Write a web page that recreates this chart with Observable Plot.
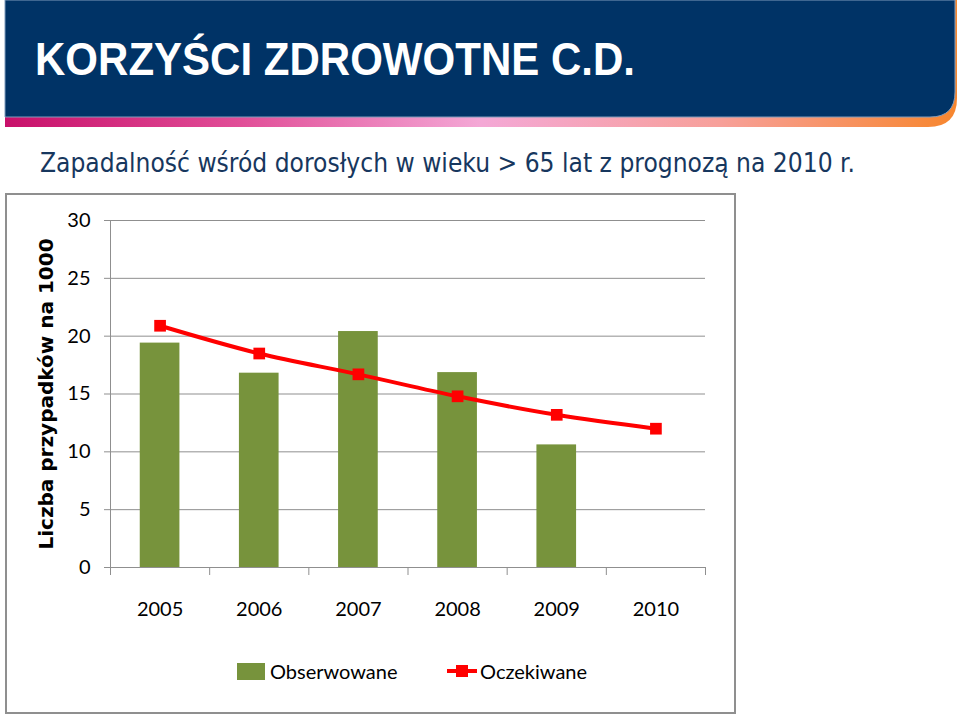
<!DOCTYPE html>
<html>
<head>
<meta charset="utf-8">
<script src="https://cdn.jsdelivr.net/npm/d3@7"></script>
<script src="https://cdn.jsdelivr.net/npm/@observablehq/plot@0.6"></script>
<style>
  body { margin: 0; background: #fff; }
  #page { position: relative; width: 960px; height: 716px; overflow: hidden; background: #fff; }
  #header { position: absolute; left: 0; top: 0; }
  #frame { position: absolute; left: 5px; top: 193px; width: 731px; height: 521px; box-sizing: border-box; border: 2px solid #8f8f8f; }
  #chart { position: absolute; left: 5px; top: 193px; }
  .leg { position: absolute; font-family: Lato, "Open Sans", sans-serif; font-size: 20px; line-height: 20px; color: #000; white-space: nowrap; }
</style>
</head>
<body>
<div id="page">
  <svg id="header" width="960" height="190" xmlns="http://www.w3.org/2000/svg">
    <defs>
      <linearGradient id="stripe" x1="0" x2="1" y1="0" y2="0">
        <stop offset="0" stop-color="#c8106a"/>
        <stop offset="0.25" stop-color="#e14f98"/>
        <stop offset="0.5" stop-color="#f4a8d6"/>
        <stop offset="0.75" stop-color="#f7a09a"/>
        <stop offset="1" stop-color="#f7862e"/>
      </linearGradient>
    </defs>
    <path d="M5,0 H957 V98 Q957,127 928,127 H5 Z" fill="url(#stripe)"/>
    <path d="M5,0 H955 V92 Q955,117 930,117 H5 Z" fill="#003366" stroke="#7f9cbc" stroke-width="1"/>
    <text id="title" x="35" y="75" fill="#ffffff" font-family="'Liberation Sans', Arial, sans-serif" font-weight="bold" font-size="46" textLength="600" lengthAdjust="spacingAndGlyphs"></text>
    <text id="subtitle" transform="translate(40,172) scale(1,1.27)" x="0" y="0" fill="#17375e" font-family="'DejaVu Sans', Verdana, sans-serif" font-size="21" textLength="815" lengthAdjust="spacingAndGlyphs"></text>
  </svg>
  <div id="frame"></div>
  <div id="chart"></div>
  <div id="legend"></div>
</div>
<script>
// ---- data ----
const titleText = "KORZYŚCI ZDROWOTNE C.D.";
const subtitleText = "Zapadalność wśród dorosłych w wieku > 65 lat z prognozą na 2010 r.";
const yLabel = "Liczba przypadków na 1000";
const years = [2005, 2006, 2007, 2008, 2009, 2010];
const observed = [19.4, 16.8, 20.4, 16.85, 10.6, null];
const expected = [20.9, 18.5, 16.7, 14.8, 13.2, 12.0];
const yTicks = [0, 5, 10, 15, 20, 25, 30];
const seriesNames = ["Obserwowane", "Oczekiwane"];
const seriesColors = ["#77933c", "#ff0000"];

document.getElementById("title").textContent = titleText;
document.getElementById("subtitle").textContent = subtitleText;

const obsData = years.map((y, i) => ({year: y, value: observed[i]})).filter(d => d.value != null);
const expData = years.map((y, i) => ({year: y, value: expected[i]}));
const edges = [...years.map(y => y - 0.5), years[years.length - 1] + 0.5];
const barHalf = 0.2;
const gray = "#8f8f8f";

const chart = Plot.plot({
  width: 730,
  height: 445,
  marginLeft: 105,
  marginRight: 30,
  marginTop: 27,
  marginBottom: 71,
  style: {background: "transparent", fontFamily: "Lato, 'Open Sans', sans-serif", color: "#000"},
  x: {type: "linear", domain: [edges[0], edges[edges.length - 1]]},
  y: {domain: [0, 30]},
  marks: [
    Plot.gridY(yTicks, {stroke: gray, strokeOpacity: 1, strokeWidth: 1}),
    Plot.axisY(yTicks, {tickSize: 6, tickPadding: 14, stroke: gray, strokeOpacity: 1, fontSize: 20, fill: "#000", label: null}),
    Plot.ruleX([edges[0]], {stroke: gray, strokeWidth: 1}),
    Plot.ruleY([0], {stroke: gray, strokeWidth: 1}),
    Plot.axisX(edges, {tickSize: 8, stroke: gray, strokeOpacity: 1, tickFormat: () => "", label: null}),
    Plot.axisX(years, {tickSize: 0, tickPadding: 34, fontSize: 20, fill: "#000", tickFormat: d => String(d), label: null}),
    Plot.rectY(obsData, {x1: d => d.year - barHalf, x2: d => d.year + barHalf, y: "value", fill: seriesColors[0]}),
    Plot.line(expData, {x: "year", y: "value", stroke: seriesColors[1], strokeWidth: 4, curve: "catmull-rom"}),
    Plot.dot(expData, {x: "year", y: "value", symbol: "square", r: 6.6, fill: seriesColors[1], stroke: "none"}),
    Plot.text([yLabel], {frameAnchor: "left", textAnchor: "middle", rotate: -90, dx: -64, fontFamily: "'DejaVu Sans', Verdana, sans-serif", fontWeight: "bold", fontSize: 20, fill: "#000"})
  ]
});
document.getElementById("chart").appendChild(chart);

// ---- legend ----
const legend = document.getElementById("legend");
legend.innerHTML = `
  <div class="leg" style="left:237px;top:663px;width:28px;height:17px;background:${seriesColors[0]}"></div>
  <div class="leg" style="left:270px;top:661px;">${seriesNames[0]}</div>
  <svg class="leg" style="left:447px;top:664px;" width="30" height="14">
    <line x1="0" x2="30" y1="7" y2="7" stroke="${seriesColors[1]}" stroke-width="4"/>
    <rect x="9" y="1" width="12" height="12" fill="${seriesColors[1]}"/>
  </svg>
  <div class="leg" style="left:480px;top:661px;">${seriesNames[1]}</div>
`;
</script>
</body>
</html>
